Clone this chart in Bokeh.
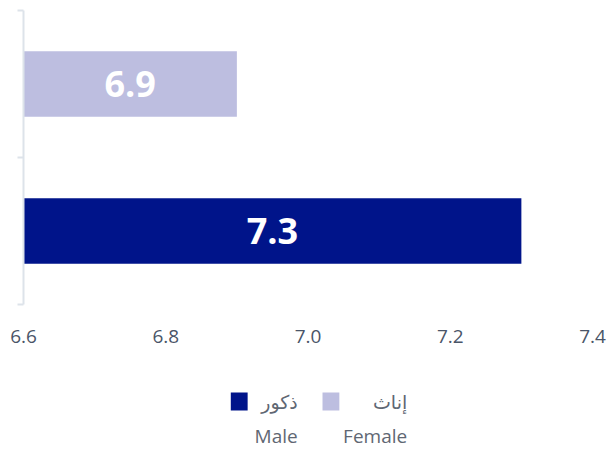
from bokeh.plotting import figure
from bokeh.models import Range1d, FixedTicker, ColumnDataSource, NumeralTickFormatter
from bokeh.layouts import column
from bokeh.core.properties import value
from bokeh.embed import file_html
from bokeh.resources import INLINE

# ---- data ----
categories_en = ["Male", "Female"]
categories_ar = ["ذكور", "إناث"]
values = [7.3, 6.9]
colors = ["#00148a", "#bdbee0"]
x_ticks = [6.6, 6.8, 7.0, 7.2, 7.4]
x_start, x_end = 6.6, 7.4

FONT = "Open Sans"
AR_FONT = "DejaVu Sans"

ypos = [i + 0.5 for i in range(len(categories_en))]
src = ColumnDataSource(dict(
    y=ypos, v=values, c=colors,
    mid=[(x_start + v) / 2 for v in values],
    lab=[f"{v:.1f}" for v in values],
))

p = figure(width=608, height=360, output_backend="svg", toolbar_location=None,
           x_range=Range1d(x_start, x_end), y_range=Range1d(0, len(categories_en)),
           min_border_left=23, min_border_right=16, min_border_top=10, min_border_bottom=56)
p.outline_line_color = None
p.grid.visible = False
p.background_fill_color = "white"

p.hbar(y="y", left=x_start, right="v", height=0.445, color="c", line_color=None, source=src)
p.text(x="mid", y="y", text="lab", source=src, text_color="white",
       text_font=value(FONT), text_font_style="bold", text_font_size="36px",
       text_align="center", text_baseline="middle")

xa = p.xaxis[0]
xa.ticker = FixedTicker(ticks=x_ticks)
xa.formatter = NumeralTickFormatter(format="0.0")
xa.axis_line_color = None
xa.major_tick_line_color = None
xa.minor_tick_line_color = None
xa.major_label_text_font = FONT
xa.major_label_text_font_size = "19px"
xa.major_label_text_color = "#4a5568"
xa.major_label_standoff = 19

ya = p.yaxis[0]
ya.ticker = FixedTicker(ticks=list(range(len(categories_en) + 1)))
ya.major_label_overrides = {i: "" for i in range(len(categories_en) + 1)}
ya.major_label_standoff = 0
ya.major_label_text_font_size = "1px"
ya.axis_line_color = "#dde3ea"
ya.axis_line_width = 2
ya.major_tick_line_color = "#dde3ea"
ya.major_tick_line_width = 2
ya.major_tick_out = 6
ya.major_tick_in = 0
ya.minor_tick_line_color = None

# ---- legend figure ----
LH = 89
lg = figure(width=608, height=LH, output_backend="svg", toolbar_location=None,
            x_range=Range1d(0, 608), y_range=Range1d(LH, 0),
            min_border=0)
lg.axis.visible = False
lg.grid.visible = False
lg.outline_line_color = None

sw_x = [230.5, 328.5]
txt_right = [293, 410]
lsrc = ColumnDataSource(dict(sx=sw_x, tx=txt_right, c=colors,
                             ar=categories_ar, en=categories_en,
                             y1=[41, 41], y2=[75, 75]))
lg.rect(x="sx", y="y1", width=18, height=18, color="c", line_color=None, source=lsrc)
lg.text(x="tx", y="y1", text="ar", source=lsrc, text_color="#5f6773",
        text_font=value(AR_FONT), text_font_size="19px",
        text_align="right", text_baseline="middle")
lg.text(x="tx", y="y2", text="en", source=lsrc, text_color="#5f6773",
        text_font=value(FONT), text_font_size="19px",
        text_align="right", text_baseline="middle")

layout = column(p, lg, spacing=0)
open("out.html", "w").write(file_html(layout, INLINE))
